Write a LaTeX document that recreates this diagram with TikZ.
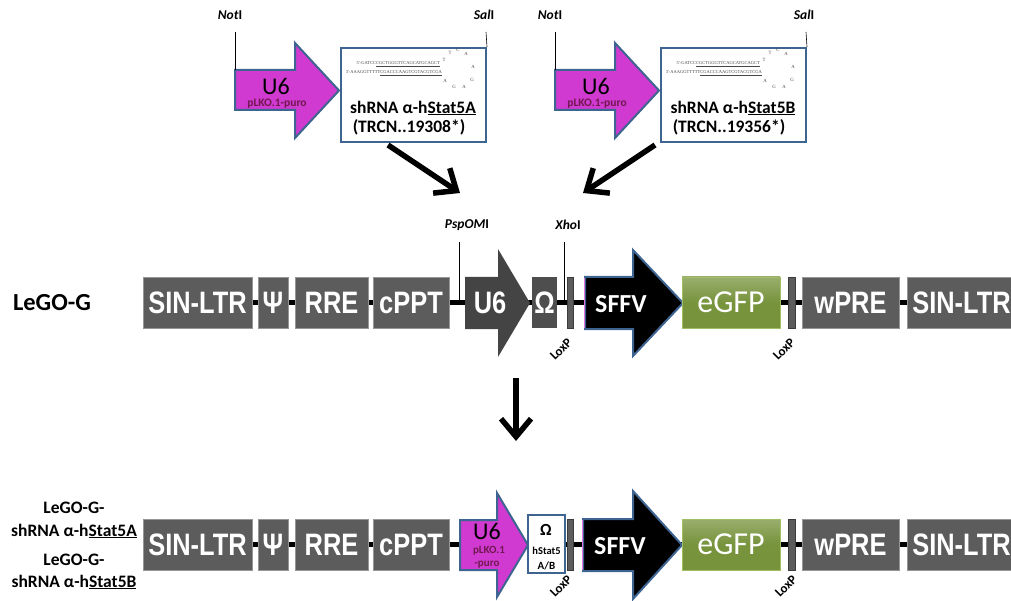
\documentclass[tikz,border=0pt]{standalone}
\usepackage{fontspec}
\setmainfont{Carlito}
\newfontfamily\boxfont[FakeStretch=0.82]{Liberation Sans}
\newfontfamily\seqfont{Liberation Serif}
\usetikzlibrary{arrows.meta,backgrounds}
\definecolor{boxgray}{RGB}{92,92,92}
\definecolor{gedge}{RGB}{150,150,150}
\definecolor{loxedge}{RGB}{60,60,60}
\definecolor{darkarrow}{RGB}{68,68,68}
\definecolor{omegagray}{RGB}{78,78,78}
\definecolor{magen}{RGB}{208,58,208}
\definecolor{bblue}{RGB}{62,100,145}
\definecolor{plko}{RGB}{112,24,80}
\definecolor{gfp}{RGB}{119,147,60}
\definecolor{gfpedge}{RGB}{160,190,100}
\definecolor{seqgray}{RGB}{70,70,70}
\begin{document}
\begin{tikzpicture}[x=1pt,y=-1pt,
  gbox/.style={draw=gedge, line width=0.8pt, fill=boxgray, text=white,
    font=\boxfont\bfseries\fontsize{31}{31}\selectfont, inner sep=0pt, minimum height=51pt},
  loxbar/.style={draw=loxedge, line width=0.6pt, fill=boxgray, inner sep=0pt,
    minimum height=51pt, minimum width=6pt},
  gfpbox/.style={draw=gfpedge, line width=0.8pt, top color=gfp!75!white, bottom color=gfp,
    middle color=gfp, text=white, font=\fontsize{32}{32}\selectfont, inner sep=0pt,
    minimum height=51pt, minimum width=98pt},
  backbone/.style={line width=5pt, black},
  site/.style={line width=0.6pt, black},
  sitelabel/.style={font=\bfseries\fontsize{13.5}{14}\selectfont, inner sep=0pt},
  loxlabel/.style={font=\bfseries\fontsize{13}{13}\selectfont, rotate=45, inner sep=0pt},
  bigarrow/.style={line width=5.5pt, -{Straight Barb[length=18pt,width=30pt]}},
  magarrow/.style={fill=magen, draw=bblue, line width=2pt, line join=miter},
  sffvarrow/.style={fill=black, draw=bblue, line width=2pt, line join=miter},
  u6dark/.style={fill=darkarrow, draw=none},
  insertbox/.style={draw=bblue, line width=2pt, fill=white, inner sep=0pt},
  shtext/.style={font=\bfseries\fontsize{17.5}{20}\selectfont, inner sep=0pt},
  u6text/.style={font=\fontsize{24}{24}\selectfont, inner sep=0pt},
  plkotext/.style={font=\bfseries\fontsize{11.5}{12}\selectfont, text=plko, inner sep=0pt},
  seq/.style={font=\seqfont\fontsize{4.5}{4.5}\selectfont, text=seqgray, inner sep=0pt},
  loop/.style={font=\seqfont\fontsize{4.8}{4.8}\selectfont, text=seqgray, inner sep=0pt},
  whitebold/.style={text=white, font=\bfseries\fontsize{26}{26}\selectfont, inner sep=0pt},
  leftlabel/.style={font=\bfseries\fontsize{17.5}{20}\selectfont, inner sep=0pt}
]
\clip (0,0) rectangle (1011,601);

% ================= top inserts =================
\foreach \dx/\nm/\lab/\trc in {0/A/Stat5A/19308, 320/B/Stat5B/19356}{
  \begin{scope}[xshift=\dx pt]
    \draw[magarrow] (235,70) -- (295,70) -- (295,43) -- (339,90.5) -- (295,138) -- (295,110) -- (235,110) -- cycle;
    \node[u6text] (u6t\nm) at (276,86) {U6};
    \node[plkotext] (plko\nm) at (277,104) {pLKO.1-puro};
    \node[insertbox, minimum width=145pt, minimum height=94pt] (box\nm) at (413.5,95) {};
    \node[sitelabel] (not\nm) at (230,15) {\textit{Not}I};
    \node[sitelabel] (sal\nm) at (484,15) {\textit{Sal}I};
    \coordinate (notl\nm) at (235,32);
    \coordinate (sall\nm) at (486,32);
    \draw[site] (notl\nm) -- (235,70);
    \draw[site] (sall\nm) -- (box\nm.north east);
    \node[seq, anchor=east] (s1\nm) at (440,64) {5'-GATCC\underline{CGCTGGGTTCAGCATGCAGCT}};
    \node[seq, anchor=east] (s2\nm) at (442,73) {3'-AAAGGTTTTT\underline{CGACCCAAGTCGTACGTCGA}};
    \node[loop] (l1\nm) at (444,60) {T};
    \node[loop] (l2\nm) at (450,53) {T};
    \node[loop] (l3\nm) at (458,50) {C};
    \node[loop] (l4\nm) at (466,54) {A};
    \node[loop] (l5\nm) at (473,67) {A};
    \node[loop] (l6\nm) at (472,80) {G};
    \node[loop] (l7\nm) at (464,87) {A};
    \node[loop] (l8\nm) at (454,87) {G};
    \node[loop] (l9\nm) at (445,81) {A};
    \node[shtext] (sh\nm) at (413,108) {shRNA α-h\underline{\lab}};
    \node[shtext] (trc\nm) at (409,127) {(TRCN..\trc*)};
  \end{scope}
}

% big arrows towards vector
\coordinate (arA1) at (388,145);
\coordinate (arA2) at (460,193);
\coordinate (arB1) at (655,145);
\coordinate (arB2) at (583,193);
\draw[bigarrow] (arA1) -- (arA2);
\draw[bigarrow] (arB1) -- (arB2);

% ================= middle row: LeGO-G =================
\node[font=\bfseries\fontsize{24.5}{25}\selectfont, inner sep=0pt] (lego) at (52,303) {LeGO-G};

\node[gbox, minimum width=109pt] (ltrA) at (197.5,302.5) {SIN-LTR};
\node[gbox, minimum width=30pt] (psiA) at (273,302.5) {Ψ};
\node[gbox, minimum width=73pt] (rreA) at (331.5,302.5) {RRE};
\node[gbox, minimum width=76pt] (cpptA) at (411,302.5) {cPPT};
\draw[u6dark] (465,277) -- (498,277) -- (498,249) -- (530,303) -- (498,357) -- (498,329) -- (465,329) -- cycle;
\node[text=white, font=\boxfont\bfseries\fontsize{31}{31}\selectfont, inner sep=0pt] (u6A) at (490,303) {U6};
\node[gbox, fill=omegagray, draw=none, minimum width=25pt] (omA) at (544.5,302.5) {Ω};
\node[loxbar] (lx1A) at (570,302.5) {};
\draw[sffvarrow] (585,277) -- (633,277) -- (633,250) -- (683,303) -- (633,356) -- (633,329) -- (585,329) -- cycle;
\draw[magen!70!white, line width=1pt] (584,278) -- (584,328);
\node[whitebold] (sffvA) at (621,304) {SFFV};
\node[gfpbox] (gfpA) at (731,302.5) {eGFP};
\node[loxbar, minimum width=7pt] (lx2A) at (791.5,302.5) {};
\node[gbox, minimum width=97pt] (wpreA) at (850.5,302.5) {wPRE};
\node[gbox, minimum width=109pt] (ltrA2) at (961.5,302.5) {SIN-LTR};

\begin{scope}[on background layer]
  \draw[backbone] (ltrA.center) -- (ltrA2.center);
\end{scope}

\node[sitelabel] (pspo) at (467,225) {\textit{PspOM}I};
\node[sitelabel] (xho) at (568,225) {\textit{Xho}I};
\coordinate (pspoL) at (459,242);
\coordinate (xhoL) at (564,242);
\draw[site] (pspoL) -- (pspoL |- ltrA.center);
\draw[site] (xhoL) -- (xhoL |- ltrA.center);
\node[loxlabel] (loxt1A) at (561,349) {LoxP};
\node[loxlabel] (loxt2A) at (784,349) {LoxP};

% down arrow
\coordinate (dn1) at (516,378);
\coordinate (dn2) at (516,441);
\draw[bigarrow] (dn1) -- (dn2);

% ================= bottom row =================
\node[leftlabel] (lbA1) at (74,508) {LeGO-G-};
\node[leftlabel] (lbA2) at (74,531) {shRNA α-h\underline{Stat5A}};
\node[leftlabel] (lbB1) at (74,560) {LeGO-G-};
\node[leftlabel] (lbB2) at (74,582) {shRNA α-h\underline{Stat5B}};

\node[gbox, minimum width=109pt] (ltrB) at (197.5,544.5) {SIN-LTR};
\node[gbox, minimum width=30pt] (psiB) at (273,544.5) {Ψ};
\node[gbox, minimum width=73pt] (rreB) at (331.5,544.5) {RRE};
\node[gbox, minimum width=76pt] (cpptB) at (411,544.5) {cPPT};
\draw[magarrow] (460,520) -- (497,520) -- (497,493) -- (528,545) -- (497,597) -- (497,570) -- (460,570) -- cycle;
\node[u6text] (u6B) at (487,531) {U6};
\node[plkotext, font=\bfseries\fontsize{11}{11}\selectfont] (plkoB1) at (489,551) {pLKO.1};
\node[plkotext, font=\bfseries\fontsize{11}{11}\selectfont] (plkoB2) at (487,565) {-puro};
\node[insertbox, minimum width=37pt, minimum height=58pt] (omB) at (546.5,544) {};
\node[font=\bfseries\fontsize{17}{17}\selectfont, inner sep=0pt] (omBt) at (546,530) {Ω};
\node[font=\bfseries\fontsize{10.5}{11}\selectfont, inner sep=0pt] (omBs) at (546.5,551) {hStat5};
\node[font=\bfseries\fontsize{11}{11}\selectfont, inner sep=0pt] (omBab) at (546.5,566) {A/B};
\node[loxbar] (lx1B) at (570,544.5) {};
\draw[sffvarrow] (583,519) -- (633,519) -- (633,491) -- (682,545) -- (633,599) -- (633,571) -- (583,571) -- cycle;
\draw[magen!70!white, line width=1pt] (582,520) -- (582,570);
\node[whitebold] (sffvB) at (620,546) {SFFV};
\node[gfpbox] (gfpB) at (731,544.5) {eGFP};
\node[loxbar, minimum width=7pt] (lx2B) at (791.5,544.5) {};
\node[gbox, minimum width=97pt] (wpreB) at (850.5,544.5) {wPRE};
\node[gbox, minimum width=109pt] (ltrB2) at (961.5,544.5) {SIN-LTR};

\begin{scope}[on background layer]
  \draw[backbone] (ltrB.center) -- (ltrB2.center);
\end{scope}

\node[loxlabel] (loxt1B) at (561,586) {LoxP};
\node[loxlabel] (loxt2B) at (786,586) {LoxP};
\end{tikzpicture}
\end{document}
